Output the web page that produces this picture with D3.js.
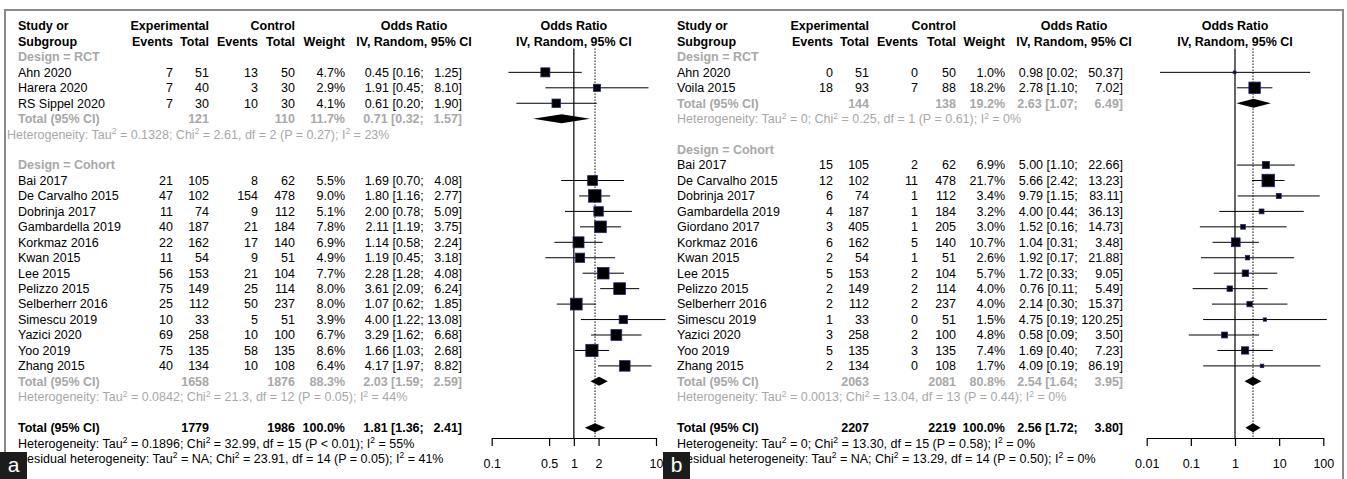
<!DOCTYPE html>
<html><head><meta charset="utf-8">
<script src="https://cdn.jsdelivr.net/npm/d3@7"></script>
<style>
body{margin:0;background:#fff;}
svg text{font-family:"Liberation Sans",Arial,sans-serif;}
</style></head><body>
<svg id="chart" width="1347" height="479"></svg>
<script>
// ---- Panel a ----
const studyA = ["Ahn 2020","Harera 2020","RS Sippel 2020","Bai 2017","De Carvalho 2015","Dobrinja 2017","Gambardella 2019","Korkmaz 2016","Kwan 2015","Lee 2015","Pelizzo 2015","Selberherr 2016","Simescu 2019","Yazici 2020","Yoo 2019","Zhang 2015"];
const designA = ["RCT","RCT","RCT","Cohort","Cohort","Cohort","Cohort","Cohort","Cohort","Cohort","Cohort","Cohort","Cohort","Cohort","Cohort","Cohort"];
const expEventsA = [7,7,7,21,47,11,40,22,11,56,75,25,10,69,75,40];
const expTotalA = [51,40,30,105,102,74,187,162,54,153,149,112,33,258,135,134];
const ctrlEventsA = [13,3,10,8,154,9,21,17,9,21,25,50,5,10,58,10];
const ctrlTotalA = [50,30,30,62,478,112,184,140,51,104,114,237,51,100,135,108];
const weightA = [4.7,2.9,4.1,5.5,9.0,5.1,7.8,6.9,4.9,7.7,8.0,8.0,3.9,6.7,8.6,6.4];
const orA = [0.45,1.91,0.61,1.69,1.80,2.00,2.11,1.14,1.19,2.28,3.61,1.07,4.00,3.29,1.66,4.17];
const lowerA = [0.16,0.45,0.20,0.70,1.16,0.78,1.19,0.58,0.45,1.28,2.09,0.62,1.22,1.62,1.03,1.97];
const upperA = [1.25,8.10,1.90,4.08,2.77,5.09,3.75,2.24,3.18,4.08,6.24,1.85,13.08,6.68,2.68,8.82];
const groupsA = ["RCT","Cohort"];
const groupExpTotalA = [121,1658];
const groupCtrlTotalA = [110,1876];
const groupWeightA = [11.7,88.3];
const groupOrA = [0.71,2.03];
const groupLowerA = [0.32,1.59];
const groupUpperA = [1.57,2.59];
const groupHetA = ["Heterogeneity: Tau^2 = 0.1328; Chi^2 = 2.61, df = 2 (P = 0.27); I^2 = 23%",
                   "Heterogeneity: Tau^2 = 0.0842; Chi^2 = 21.3, df = 12 (P = 0.05); I^2 = 44%"];
const overallTotalsA = [1779,1986,100.0];
const overallOrA = [1.81,1.36,2.41];
const overallHetA = ["Heterogeneity: Tau^2 = 0.1896; Chi^2 = 32.99, df = 15 (P < 0.01); I^2 = 55%",
                     "Residual heterogeneity: Tau^2 = NA; Chi^2 = 23.91, df = 14 (P = 0.05); I^2 = 41%"];
const ticksA = [0.1,0.5,1,2,10];

// ---- Panel b ----
const studyB = ["Ahn 2020","Voila 2015","Bai 2017","De Carvalho 2015","Dobrinja 2017","Gambardella 2019","Giordano 2017","Korkmaz 2016","Kwan 2015","Lee 2015","Pelizzo 2015","Selberherr 2016","Simescu 2019","Yazici 2020","Yoo 2019","Zhang 2015"];
const designB = ["RCT","RCT","Cohort","Cohort","Cohort","Cohort","Cohort","Cohort","Cohort","Cohort","Cohort","Cohort","Cohort","Cohort","Cohort","Cohort"];
const expEventsB = [0,18,15,12,6,4,3,6,2,5,2,2,1,3,5,2];
const expTotalB = [51,93,105,102,74,187,405,162,54,153,149,112,33,258,135,134];
const ctrlEventsB = [0,7,2,11,1,1,1,5,1,2,2,2,0,2,3,0];
const ctrlTotalB = [50,88,62,478,112,184,205,140,51,104,114,237,51,100,135,108];
const weightB = [1.0,18.2,6.9,21.7,3.4,3.2,3.0,10.7,2.6,5.7,4.0,4.0,1.5,4.8,7.4,1.7];
const orB = [0.98,2.78,5.00,5.66,9.79,4.00,1.52,1.04,1.92,1.72,0.76,2.14,4.75,0.58,1.69,4.09];
const lowerB = [0.02,1.10,1.10,2.42,1.15,0.44,0.16,0.31,0.17,0.33,0.11,0.30,0.19,0.09,0.40,0.19];
const upperB = [50.37,7.02,22.66,13.23,83.11,36.13,14.73,3.48,21.88,9.05,5.49,15.37,120.25,3.50,7.23,86.19];
const groupsB = ["RCT","Cohort"];
const groupExpTotalB = [144,2063];
const groupCtrlTotalB = [138,2081];
const groupWeightB = [19.2,80.8];
const groupOrB = [2.63,2.54];
const groupLowerB = [1.07,1.64];
const groupUpperB = [6.49,3.95];
const groupHetB = ["Heterogeneity: Tau^2 = 0; Chi^2 = 0.25, df = 1 (P = 0.61); I^2 = 0%",
                   "Heterogeneity: Tau^2 = 0.0013; Chi^2 = 13.04, df = 13 (P = 0.44); I^2 = 0%"];
const overallTotalsB = [2207,2219,100.0];
const overallOrB = [2.56,1.72,3.80];
const overallHetB = ["Heterogeneity: Tau^2 = 0; Chi^2 = 13.30, df = 15 (P = 0.58); I^2 = 0%",
                     "Residual heterogeneity: Tau^2 = NA; Chi^2 = 13.29, df = 14 (P = 0.50); I^2 = 0%"];
const ticksB = [0.01,0.1,1,10,100];

const panels = [
  {
    data: {study:studyA, design:designA, expEv:expEventsA, expTot:expTotalA, ctrlEv:ctrlEventsA, ctrlTot:ctrlTotalA,
           w:weightA, or:orA, lo:lowerA, hi:upperA,
           groups:groupsA, gExpTot:groupExpTotalA, gCtrlTot:groupCtrlTotalA, gW:groupWeightA,
           gOr:groupOrA, gLo:groupLowerA, gHi:groupUpperA, gHet:groupHetA,
           totals:overallTotalsA, overall:overallOrA, het:overallHetA, ticks:ticksA},
    col: {name:18, expEv:173, expTot:209, ctrlEv:258, ctrlTot:295, weight:345, orUp:462, orHead:414},
    hetShift: [-11, 0],
    domain: [0.1, 10], range: [491.7, 656]
  },
  {
    data: {study:studyB, design:designB, expEv:expEventsB, expTot:expTotalB, ctrlEv:ctrlEventsB, ctrlTot:ctrlTotalB,
           w:weightB, or:orB, lo:lowerB, hi:upperB,
           groups:groupsB, gExpTot:groupExpTotalB, gCtrlTot:groupCtrlTotalB, gW:groupWeightB,
           gOr:groupOrB, gLo:groupLowerB, gHi:groupUpperB, gHet:groupHetB,
           totals:overallTotalsB, overall:overallOrB, het:overallHetB, ticks:ticksB},
    col: {name:677, expEv:833, expTot:869, ctrlEv:918, ctrlTot:956, weight:1005, orUp:1123, orHead:1074},
    hetShift: [0, 0],
    domain: [0.01, 100], range: [1146.7, 1323.3]
  }
];

const svg = d3.select("#chart");
const Y0 = 26, DY = 15.45, FS = 12.5;
const GRAY = "#a8a8a8";
const rowY = i => Y0 + i * DY;
const f2 = d3.format(".2f");
const pct = v => d3.format(".1f")(v) + "%";

// text with "^2" rendered as a raised superscript
function txt(g, x, y, s, opt = {}) {
  const t = g.append("text")
    .attr("x", x).attr("y", y).attr("dy", "0.35em")
    .attr("font-size", opt.size || FS)
    .attr("font-weight", opt.bold ? "bold" : "normal")
    .attr("fill", opt.color || "#000")
    .attr("text-anchor", opt.anchor || "start");
  const parts = String(s).split("^2");
  parts.forEach((p, i) => {
    if (i > 0) {
      t.append("tspan").attr("dy", -4.5).attr("font-size", 8.5).text("2");
      t.append("tspan").attr("dy", 4.5).text(p);
    } else {
      t.append("tspan").text(p);
    }
  });
  return t;
}

panels.forEach(p => {
  const d = p.data, c = p.col;
  const g = svg.append("g");
  const x = d3.scaleLog().domain(p.domain).range(p.range);
  const xc = x(1);

  // width of the widest upper-limit string sets where "[lower;" ends
  const probe = g.append("text").attr("font-size", FS).attr("visibility", "hidden");
  let maxUp = 0;
  d.hi.concat(d.gHi, [d.overall[2]]).forEach(v => {
    probe.text(f2(v) + "]");
    maxUp = Math.max(maxUp, probe.node().getComputedTextLength());
  });
  probe.text("a a");
  const spaceW = probe.node().getComputedTextLength();
  probe.text("aa");
  const sp = spaceW - probe.node().getComputedTextLength();
  probe.remove();
  const semiX = c.orUp - maxUp - sp;

  const orText = (y, est, lo, hi, opt) => {
    txt(g, semiX, y, f2(est) + " [" + f2(lo) + ";", Object.assign({anchor:"end"}, opt));
    txt(g, c.orUp, y, f2(hi) + "]", Object.assign({anchor:"end"}, opt));
  };

  // header
  txt(g, c.name, rowY(0), "Study or", {bold:true});
  txt(g, c.expTot, rowY(0), "Experimental", {bold:true, anchor:"end"});
  txt(g, c.ctrlTot, rowY(0), "Control", {bold:true, anchor:"end"});
  txt(g, c.orHead, rowY(0), "Odds Ratio", {bold:true, anchor:"middle"});
  txt(g, xc, rowY(0), "Odds Ratio", {bold:true, anchor:"middle"});
  txt(g, c.name, rowY(1), "Subgroup", {bold:true});
  txt(g, c.expEv, rowY(1), "Events", {bold:true, anchor:"end"});
  txt(g, c.expTot, rowY(1), "Total", {bold:true, anchor:"end"});
  txt(g, c.ctrlEv, rowY(1), "Events", {bold:true, anchor:"end"});
  txt(g, c.ctrlTot, rowY(1), "Total", {bold:true, anchor:"end"});
  txt(g, c.weight, rowY(1), "Weight", {bold:true, anchor:"end"});
  txt(g, c.orHead, rowY(1), "IV, Random, 95% CI", {bold:true, anchor:"middle"});
  txt(g, xc, rowY(1), "IV, Random, 95% CI", {bold:true, anchor:"middle"});

  // reference lines (no effect and pooled estimate)
  const topY = rowY(1) + 7, axisY = 438;
  const forest = g.append("g");
  forest.append("line").attr("x1", xc).attr("x2", xc).attr("y1", topY).attr("y2", axisY)
    .attr("stroke", "#000").attr("stroke-width", 1.2);
  forest.append("line").attr("x1", x(d.overall[0])).attr("x2", x(d.overall[0]))
    .attr("y1", topY).attr("y2", axisY)
    .attr("stroke", "#000").attr("stroke-width", 1).attr("stroke-dasharray", "1.5,1.5");

  const maxW = d3.max(d.w);
  const diamond = (y, est, lo, hi) => {
    forest.append("path")
      .attr("d", `M${x(lo)},${y}L${x(est)},${y-4.5}L${x(hi)},${y}L${x(est)},${y+4.5}Z`)
      .attr("fill", "#000");
  };

  let r = 2;
  d.groups.forEach((grp, gi) => {
    txt(g, c.name, rowY(r), "Design = " + grp, {bold:true, color:GRAY});
    r++;
    d.study.forEach((s, i) => {
      if (d.design[i] !== grp) return;
      const y = rowY(r);
      txt(g, c.name, y, s);
      txt(g, c.expEv, y, d.expEv[i], {anchor:"end"});
      txt(g, c.expTot, y, d.expTot[i], {anchor:"end"});
      txt(g, c.ctrlEv, y, d.ctrlEv[i], {anchor:"end"});
      txt(g, c.ctrlTot, y, d.ctrlTot[i], {anchor:"end"});
      txt(g, c.weight, y, pct(d.w[i]), {anchor:"end"});
      orText(y, d.or[i], d.lo[i], d.hi[i], {});
      forest.append("line").attr("x1", x(d.lo[i])).attr("x2", x(d.hi[i]))
        .attr("y1", y).attr("y2", y).attr("stroke", "#000").attr("stroke-width", 1);
      const side = 12.5 * Math.sqrt(d.w[i] / maxW);
      forest.append("rect").attr("x", x(d.or[i]) - side/2).attr("y", y - side/2)
        .attr("width", side).attr("height", side)
        .attr("fill", "#000").attr("stroke", "#23237a").attr("stroke-width", 0.8);
      r++;
    });
    const yt = rowY(r);
    txt(g, c.name, yt, "Total (95% CI)", {bold:true, color:GRAY});
    txt(g, c.expTot, yt, d.gExpTot[gi], {bold:true, color:GRAY, anchor:"end"});
    txt(g, c.ctrlTot, yt, d.gCtrlTot[gi], {bold:true, color:GRAY, anchor:"end"});
    txt(g, c.weight, yt, pct(d.gW[gi]), {bold:true, color:GRAY, anchor:"end"});
    orText(yt, d.gOr[gi], d.gLo[gi], d.gHi[gi], {bold:true, color:GRAY});
    diamond(yt, d.gOr[gi], d.gLo[gi], d.gHi[gi]);
    r++;
    txt(g, c.name + p.hetShift[gi], rowY(r), d.gHet[gi], {color:GRAY});
    r += 2;
  });

  // overall pooled estimate
  const yo = rowY(r);
  txt(g, c.name, yo, "Total (95% CI)", {bold:true});
  txt(g, c.expTot, yo, d.totals[0], {bold:true, anchor:"end"});
  txt(g, c.ctrlTot, yo, d.totals[1], {bold:true, anchor:"end"});
  txt(g, c.weight, yo, pct(d.totals[2]), {bold:true, anchor:"end"});
  orText(yo, d.overall[0], d.overall[1], d.overall[2], {bold:true});
  diamond(yo, d.overall[0], d.overall[1], d.overall[2]);
  txt(g, c.name, rowY(r + 1), d.het[0]);
  txt(g, c.name, rowY(r + 2), d.het[1]);

  // log axis
  const axis = d3.axisBottom(x).tickValues(d.ticks).tickFormat(v => String(v))
    .tickSize(8).tickSizeOuter(0).tickPadding(13);
  const ag = g.append("g").attr("transform", `translate(0,${axisY})`).call(axis);
  ag.select(".domain").attr("stroke", "#000").attr("stroke-width", 1.2);
  ag.selectAll(".tick line").attr("stroke", "#000").attr("stroke-width", 1.2);
  ag.selectAll(".tick text").attr("font-size", FS).attr("font-family", "Liberation Sans, Arial, sans-serif").attr("fill", "#000");
});

// frame
const frame = svg.append("g").attr("stroke", "#8a8a8a").attr("stroke-width", 2).attr("fill", "none");
frame.append("path").attr("d", "M5,479V10H1343V479");

// panel letters
[["a", 0], ["b", 663]].forEach(([s, x0]) => {
  svg.append("rect").attr("x", x0).attr("y", 452).attr("width", 27).attr("height", 27).attr("fill", "#1c1c1c");
  svg.append("text").attr("x", x0 + 13.5).attr("y", 472).attr("text-anchor", "middle")
    .attr("font-size", 21).attr("fill", "#fff").text(s);
});
</script>
</body></html>
